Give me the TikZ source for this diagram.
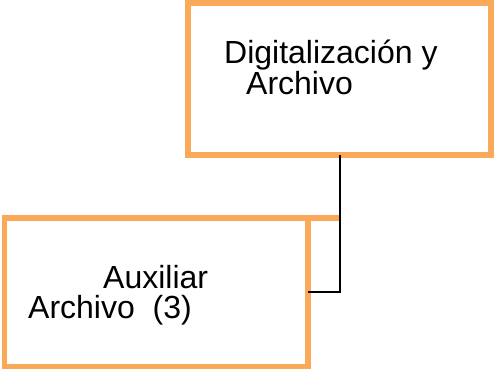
\documentclass[tikz,border=0pt]{standalone}
\usepackage{fontspec}
\setmainfont{Liberation Sans}
\definecolor{boxorange}{RGB}{250,169,88}
\begin{document}
\begin{tikzpicture}[x=1pt,y=-1pt,
  orgbox/.style={draw=boxorange,line width=5.5pt,rectangle,inner sep=0pt,outer sep=0pt},
  lbl/.style={inner sep=0pt,anchor=base west,font=\fontsize{32}{33}\selectfont},
  link/.style={draw=black,line width=2pt}]
\useasboundingbox (0,0) rectangle (494,370);
\node[orgbox,minimum width=303pt,minimum height=152pt] (b1) at (339.5,79) {};
\node[orgbox,minimum width=303.5pt,minimum height=148.5pt] (b2) at (156.25,292.25) {};
\coordinate (ext) at (b1.south |- b2.north);
\draw[draw=boxorange,line width=5.5pt] (b2.north east) -- ([xshift=-1pt]ext);
\draw[link] (b1.south) |- (b2.east);
\node[lbl] (t1) at (224,63) {Digitalización y};
\node[lbl] (t2) at (246,94) {Archivo};
\node[lbl] (t3) at (103,288) {Auxiliar};
\node[lbl] (t4) at (28,318) {Archivo\ \ (3)};
\end{tikzpicture}
\end{document}
